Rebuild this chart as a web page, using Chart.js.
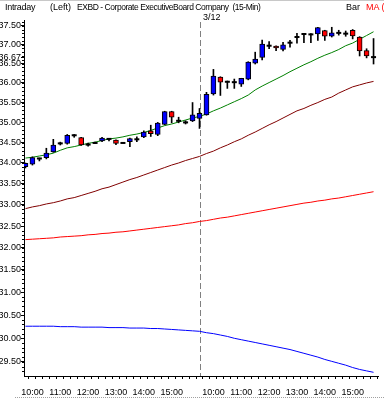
<!DOCTYPE html>
<html><head><meta charset="utf-8">
<script src="https://cdn.jsdelivr.net/npm/chart.js@4.4.1/dist/chart.umd.min.js"></script>
<style>
html,body{margin:0;padding:0;background:#fff;}
#wrap{position:relative;width:384px;height:398px;overflow:hidden;font-family:"Liberation Sans",Arial,sans-serif;font-size:9px;color:#000;}
#c{position:absolute;left:0;top:0;}
.t{position:absolute;white-space:nowrap;line-height:10px;}
#topline{position:absolute;left:0;top:0;width:384px;height:1px;background:#c8c8c8;}
#botline{position:absolute;left:15px;top:397px;width:369px;border-top:1px dotted #a0a0a0;}
</style></head><body>
<div id="wrap">
<canvas id="c" width="384" height="398"></canvas>
<div id="topline"></div>
<span class="t" style="left:5px;top:2px;letter-spacing:-0.3px">Intraday</span>
<span class="t" style="left:50px;top:2px">(Left)</span>
<span class="t" style="left:77px;top:2px;font-size:8.5px;letter-spacing:-0.45px">EXBD - Corporate ExecutiveBoard Company&nbsp;&nbsp;(15-Min)</span>
<span class="t" id="daylbl" style="left:203px;top:12px">3/12</span>
<span class="t" style="left:346px;top:2px">Bar</span>
<span class="t" style="left:366px;top:2px;color:#ff0000">MA (</span>
<div id="botline"></div>
</div>
<script>
const barTimes = ['9:45','10:00','10:15','10:30','10:45','11:00','11:15','11:30','11:45','12:00','12:15','12:30','12:45','13:00','13:15','13:30','13:45','14:00','14:15','14:30','14:45','15:00','15:15','15:30','15:45',
 '9:30','9:45','10:00','10:15','10:30','10:45','11:00','11:15','11:30','11:45','12:00','12:15','12:30','12:45','13:00','13:15','13:30','13:45','14:00','14:15','14:30','14:45','15:00','15:15','15:30','15:45'];
const openP  = [33.91,33.97,34.11,34.13,34.27,34.48,34.48,34.68,34.62,34.45,34.49,34.54,34.59,34.56,34.49,34.52,34.58,34.64,34.79,34.70,34.95,35.27,35.04,35.00,35.04,
 35.10,35.19,35.72,36.15,36.03,36.02,35.97,36.10,36.51,36.66,36.97,36.96,36.87,37.05,37.20,37.28,37.27,37.28,37.37,37.22,37.31,37.29,37.38,37.20,36.84,36.67];
const highP  = [34.00,34.15,34.12,34.36,34.58,34.51,34.70,34.70,34.63,34.49,34.51,34.63,34.60,34.57,34.49,34.61,34.64,34.79,34.93,35.00,35.28,35.28,35.13,35.04,35.50,
 35.35,35.76,36.35,36.16,36.05,36.10,36.12,36.55,36.80,37.12,37.08,36.97,37.06,37.11,37.30,37.29,37.29,37.46,37.38,37.46,37.38,37.36,37.40,37.21,36.89,37.16];
const lowP   = [33.88,33.95,34.05,34.10,34.26,34.44,34.46,34.63,34.43,34.41,34.47,34.52,34.54,34.45,34.49,34.40,34.52,34.62,34.65,34.67,34.94,34.99,34.99,34.96,35.02,
 34.85,35.18,35.69,35.68,35.86,35.86,35.91,36.08,36.49,36.60,36.89,36.84,36.83,36.93,37.04,37.05,37.05,37.11,37.11,37.20,37.25,37.22,37.15,36.70,36.65,36.49];
const closeP = [33.99,34.13,34.11,34.24,34.44,34.48,34.68,34.68,34.44,34.45,34.49,34.61,34.59,34.48,34.49,34.60,34.58,34.76,34.72,34.98,35.27,35.13,35.04,35.00,35.19,
 35.23,35.71,36.18,36.02,36.03,36.02,36.12,36.54,36.62,37.01,36.97,36.91,36.99,37.05,37.20,37.28,37.27,37.45,37.22,37.31,37.31,37.29,37.23,36.83,36.70,36.67];
const maGreen  = [34.12,34.14,34.17,34.20,34.24,34.31,34.37,34.40,34.44,34.48,34.51,34.55,34.59,34.61,34.64,34.68,34.71,34.75,34.80,34.86,34.92,34.96,35.01,35.06,35.11,
 35.15,35.21,35.29,35.36,35.44,35.52,35.60,35.69,35.82,35.92,36.01,36.10,36.19,36.29,36.38,36.47,36.55,36.64,36.72,36.79,36.87,36.97,37.04,37.14,37.24,37.34];
const maMaroon = [32.91,32.95,32.98,33.02,33.05,33.09,33.14,33.17,33.22,33.27,33.32,33.38,33.42,33.48,33.54,33.60,33.65,33.71,33.77,33.83,33.89,33.95,34.00,34.06,34.11,
 34.16,34.23,34.29,34.37,34.44,34.52,34.59,34.68,34.76,34.85,34.94,35.02,35.11,35.20,35.29,35.35,35.43,35.50,35.58,35.64,35.74,35.82,35.90,35.95,36.00,36.04];
const maRed    = [32.19,32.20,32.21,32.22,32.23,32.25,32.26,32.27,32.28,32.30,32.31,32.33,32.34,32.36,32.37,32.39,32.41,32.43,32.45,32.47,32.49,32.51,32.53,32.56,32.58,
 32.61,32.63,32.66,32.69,32.71,32.74,32.77,32.80,32.83,32.86,32.89,32.92,32.95,32.98,33.01,33.04,33.06,33.09,33.11,33.14,33.16,33.19,33.22,33.25,33.28,33.31];
const maBlue   = [30.26,30.26,30.26,30.26,30.26,30.25,30.25,30.25,30.24,30.24,30.24,30.24,30.23,30.23,30.23,30.22,30.22,30.22,30.21,30.21,30.20,30.19,30.18,30.17,30.16,
 30.15,30.12,30.10,30.07,30.04,30.00,29.97,29.94,29.91,29.88,29.85,29.82,29.79,29.76,29.72,29.68,29.64,29.60,29.55,29.51,29.47,29.43,29.38,29.34,29.31,29.28];
const yTickValues = [37.5,37,36.67,36.5,36,35.5,35,34.5,34,33.5,33,32.5,32,31.5,31,30.5,30,29.5];
const yTickLabels = ['37.50','37.00','36.67','36.50','36.00','35.50','35.00','34.50','34.00','33.50','33.00','32.50','32.00','31.50','31.00','30.50','30.00','29.50'];

const FIRST = 1;
const xs = barTimes.map((t, k) => k + FIRST);
const dayStart = barTimes.indexOf('9:30') + FIRST;
const bodies = [], bodyColors = [], wicks = [], dojis = [];
barTimes.forEach((t, k) => {
  const o = openP[k], c = closeP[k];
  wicks.push({x: xs[k], y: [lowP[k], highP[k]]});
  if (o === c) dojis.push({x: xs[k], y: c});
  else { bodies.push({x: xs[k], y: [Math.min(o, c), Math.max(o, c)]}); bodyColors.push(c > o ? '#0000ff' : '#ff0000'); }
});
const line = (arr, color) => ({type: 'line', data: arr.map((v, k) => ({x: xs[k], y: v})), borderColor: color, borderWidth: 1, pointRadius: 0, tension: 0, fill: false});

const extras = {
  id: 'extras',
  beforeDatasetsDraw(chart) {
    const {ctx, chartArea: a, scales: {x, y}} = chart;
    const px = Math.round(x.getPixelForValue(dayStart)) + 0.5;
    ctx.save();
    ctx.strokeStyle = '#808080'; ctx.lineWidth = 1; ctx.setLineDash([6, 3]);
    ctx.beginPath(); ctx.moveTo(px, a.top + 2); ctx.lineTo(px, a.bottom); ctx.stroke();
    ctx.restore();
  },
  afterDraw(chart) {
    const {ctx, chartArea: a, scales: {y}} = chart;
    ctx.save(); ctx.strokeStyle = '#000'; ctx.lineWidth = 1;
    ctx.beginPath();
    for (let n = 293; n <= 376; n++) {
      const py = Math.round(y.getPixelForValue(n / 10)) + 0.5;
      if (py < a.top || py > a.bottom) continue;
      ctx.moveTo(a.left - 2, py); ctx.lineTo(a.left, py);
    }
    ctx.stroke(); ctx.restore();
  }
};

const font = {family: '"Liberation Sans", Arial, sans-serif', size: 9};
new Chart(document.getElementById('c'), {
  type: 'bar',
  data: {datasets: [
    {type: 'bar', data: bodies, backgroundColor: bodyColors, borderColor: '#000', borderWidth: 1, borderSkipped: false, barThickness: 5, grouped: false},
    {type: 'line', data: dojis, showLine: false, pointStyle: 'line', pointRadius: 2.5, pointBorderWidth: 2, pointBorderColor: '#000', borderColor: '#000'},
    {type: 'bar', data: wicks, backgroundColor: '#000', borderWidth: 0, barThickness: 1, grouped: false},
    line(maGreen, '#008000'),
    line(maMaroon, '#800000'),
    line(maRed, '#ff0000'),
    line(maBlue, '#0000ff')
  ]},
  options: {
    responsive: false, animation: false, devicePixelRatio: 1,
    layout: {padding: {top: 20, right: 4, left: 0, bottom: 0}},
    plugins: {legend: {display: false}, tooltip: {enabled: false}},
    scales: {
      x: {type: 'linear', min: 0.79, max: 51.64, bounds: 'data', offset: false,
        afterBuildTicks: s => { s.ticks = xs.map(v => ({value: v})); },
        afterFit: s => { s.height = 22; },
        ticks: {autoSkip: false, maxRotation: 0, padding: 8, color: '#000', font,
          callback: v => { const t = barTimes[v - FIRST]; return t && t.endsWith(':00') ? t : ''; }},
        grid: {display: true, drawOnChartArea: false, drawTicks: true, tickLength: 3, color: '#000'},
        border: {display: true, color: '#000', width: 1}},
      y: {type: 'logarithmic', position: 'left', min: 29.203, max: 37.655, bounds: 'data',
        afterBuildTicks: s => { s.ticks = yTickValues.map(v => ({value: v})); },
        afterFit: s => { s.width = 24; },
        ticks: {autoSkip: false, padding: 0, color: '#000', font,
          callback: (v, i) => yTickLabels[i]},
        grid: {display: true, drawOnChartArea: false, drawTicks: true, tickLength: 3, color: '#000'},
        border: {display: true, color: '#000', width: 1}}
    }
  },
  plugins: [extras]
});
</script>
</body></html>
